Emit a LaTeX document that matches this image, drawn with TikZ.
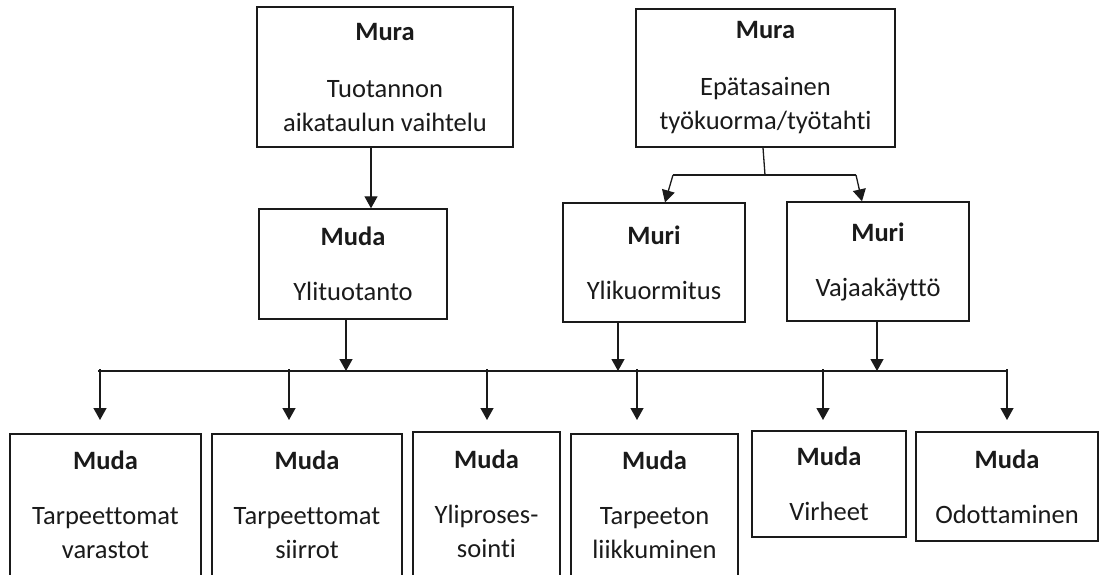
\documentclass[tikz,border=0pt]{standalone}
\usepackage{fontspec}
\setmainfont{Carlito}[Ligatures=NoCommon]
\usetikzlibrary{arrows.meta}
\definecolor{ink}{HTML}{1A1A1A}
\tikzset{
  box/.style={draw=ink, line width=1.4pt, inner sep=0pt, align=center,
    text=ink, font=\fontsize{26.5}{34}\selectfont},
  link/.style={draw=ink, line width=1.3pt},
  arr/.style={link, -{Triangle[width=13pt,length=12pt]}}
}
\begin{document}
\begin{tikzpicture}[x=1pt, y=-1pt]
  \path[use as bounding box] (0,0) rectangle (1101,574);
  \clip (0,0) rectangle (1101,574);

  % top level: Mura
  \node[box, minimum width=256pt, minimum height=140pt] (T1) at (385,77)
    {\textbf{Mura}\\[23pt]Tuotannon\\aikataulun vaihtelu};
  \node[box, minimum width=259pt, minimum height=138pt] (T2) at (765.5,78)
    {\textbf{Mura}\\[23pt]Epätasainen\\työkuorma/työtahti};

  % middle level
  \node[box, minimum width=188pt, minimum height=110pt] (M1) at (353,264)
    {\textbf{Muda}\\[21pt]Ylituotanto};
  \node[box, minimum width=182pt, minimum height=119pt] (M2) at (654,262.5)
    {\textbf{Muri}\\[21pt]Ylikuormitus};
  \node[box, minimum width=182pt, minimum height=119pt] (M3) at (878,261.5)
    {\textbf{Muri}\\[21pt]Vajaakäyttö};

  % bottom level: the wastes
  \node[box, minimum width=191pt, minimum height=142pt] (B1) at (105.5,505)
    {\textbf{Muda}\\[21pt]Tarpeettomat\\varastot};
  \node[box, minimum width=190pt, minimum height=142pt] (B2) at (307,505)
    {\textbf{Muda}\\[21pt]Tarpeettomat\\siirrot};
  \node[box, minimum width=147pt, minimum height=144pt] (B3) at (486.5,504)
    {\textbf{Muda}\\[21pt]Yliproses-\\sointi};
  \node[box, minimum width=167pt, minimum height=142pt] (B4) at (654.5,505)
    {\textbf{Muda}\\[21pt]Tarpeeton\\liikkuminen};
  \node[box, minimum width=154pt, minimum height=106pt] (B5) at (829,484)
    {\textbf{Muda}\\[21pt]Virheet};
  \node[box, minimum width=182pt, minimum height=109pt] (B6) at (1007,486.5)
    {\textbf{Muda}\\[21pt]Odottaminen};

  % helper points
  \coordinate (sp)  at (765,175);
  \coordinate (spL) at (673,175);
  \coordinate (spR) at (856,175);
  \coordinate (busL) at (98,371);
  \coordinate (busR) at (1008,371);
  \coordinate (tick) at (0,369);
  \coordinate (tips) at (0,420);

  % Mura -> Muda
  \draw[arr] ([xshift=-14pt]T1.south) -- ([xshift=18pt]M1.north);

  % Mura -> both Muri
  \draw[link] ([xshift=-2.5pt]T2.south) -- (sp);
  \draw[link] (spL) -- (spR);
  \draw[arr] (spL) -- ([xshift=11pt]M2.north);
  \draw[arr] (spR) -- ([xshift=-16pt]M3.north);

  % common bus
  \draw[link] (busL) -- (busR);
  \draw[arr] ([xshift=-7pt]M1.south) -- ([xshift=-7pt]M1.south |- busL);
  \draw[arr] ([xshift=-36pt]M2.south) -- ([xshift=-36pt]M2.south |- busL);
  \draw[arr] ([xshift=-1pt]M3.south) -- ([xshift=-1pt]M3.south |- busL);

  % bus -> wastes
  \draw[arr] ([xshift=-5.5pt]B1.north |- tick) -- ([xshift=-5.5pt]B1.north |- tips);
  \draw[arr] ([xshift=-18pt]B2.north |- tick) -- ([xshift=-18pt]B2.north |- tips);
  \draw[arr] ([xshift=0.5pt]B3.north |- tick) -- ([xshift=0.5pt]B3.north |- tips);
  \draw[arr] ([xshift=-17.5pt]B4.north |- tick) -- ([xshift=-17.5pt]B4.north |- tips);
  \draw[arr] ([xshift=-6pt]B5.north |- tick) -- ([xshift=-6pt]B5.north |- tips);
  \draw[arr] (B6.north |- tick) -- (B6.north |- tips);
\end{tikzpicture}
\end{document}
